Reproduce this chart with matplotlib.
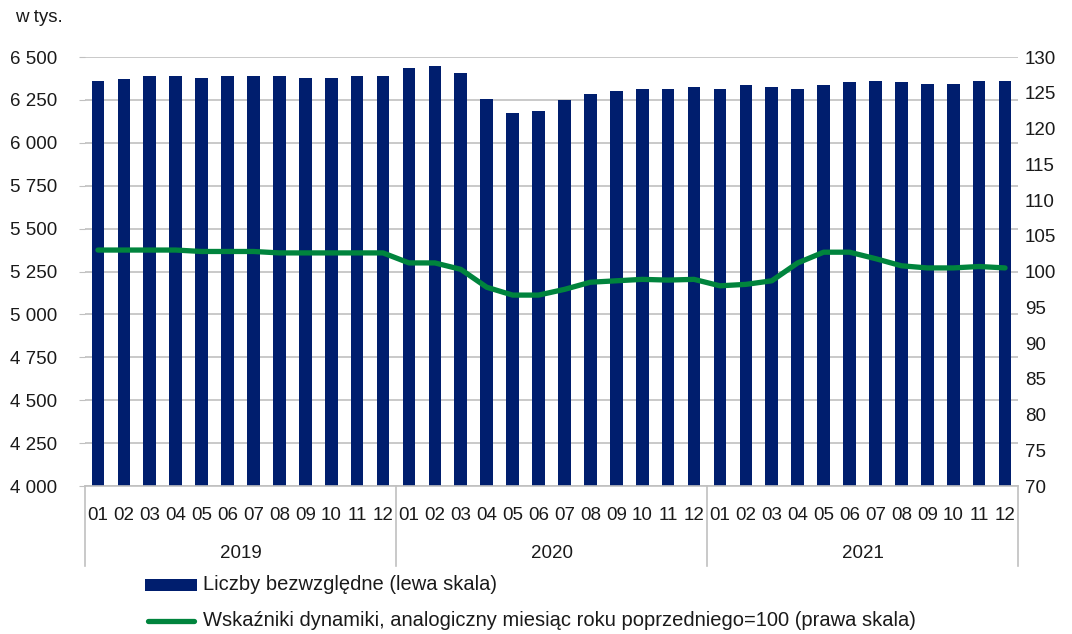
import matplotlib.pyplot as plt
from matplotlib.patches import Rectangle
from matplotlib.lines import Line2D
import matplotlib.transforms as mtransforms

plt.rcParams['font.family'] = ['Liberation Sans', 'DejaVu Sans']

years = ['2019', '2020', '2021']
months = ['01', '02', '03', '04', '05', '06', '07', '08', '09', '10', '11', '12']

# liczby bezwzgledne, w tys.
values = [6360, 6370, 6390, 6390, 6380, 6390, 6390, 6390, 6380, 6380, 6390, 6390,
          6436, 6447, 6408, 6258, 6174, 6184, 6250, 6287, 6304, 6314, 6314, 6324,
          6314, 6334, 6324, 6314, 6334, 6352, 6361, 6352, 6344, 6344, 6361, 6361]

# wskazniki dynamiki, analogiczny miesiac roku poprzedniego = 100
index = [103.0, 103.0, 103.0, 103.0, 102.8, 102.8, 102.8, 102.6, 102.6, 102.6, 102.6, 102.6,
         101.2, 101.2, 100.3, 97.8, 96.7, 96.7, 97.5, 98.5, 98.7, 98.9, 98.8, 98.9,
         98.0, 98.2, 98.7, 101.2, 102.7, 102.7, 101.8, 100.8, 100.5, 100.5, 100.7, 100.5]

legend_labels = ['Liczby bezwzględne (lewa skala)',
                 'Wskaźniki dynamiki, analogiczny miesiąc roku poprzedniego=100 (prawa skala)']

bar_color = '#001e6e'
line_color = '#00843d'
grid_color = '#c0c0c0'
text_color = '#1a1a1a'
fs = 13.5

W, H = 1072, 634
fig = plt.figure(figsize=(W / 100, H / 100), dpi=100)
ax = fig.add_axes([85 / W, 1 - 486 / H, (1018 - 85) / W, (486 - 57) / H])

x = list(range(len(values)))
ax.bar(x, values, width=0.49, color=bar_color, zorder=2)
ax.set_ylim(4000, 6500)
ax.set_xlim(-0.5, len(values) - 0.5)
ax.set_yticks(range(4000, 6501, 250))
ax.set_yticklabels([f'{v // 1000} {v % 1000:03d}' for v in range(4000, 6501, 250)])
ax.yaxis.grid(True, color=grid_color, linewidth=1.2, zorder=0)
ax.set_axisbelow(True)
for s in ['top', 'right', 'left']:
    ax.spines[s].set_visible(False)
ax.spines['bottom'].set_color(grid_color)
ax.spines['bottom'].set_linewidth(1.2)
ax.tick_params(axis='y', length=4, color=grid_color, labelsize=fs, labelcolor=text_color, pad=16)

ax.set_xticks(x)
ax.set_xticklabels(months * len(years))
ax.tick_params(axis='x', length=0, labelsize=fs, labelcolor=text_color, pad=15)

ax2 = ax.twinx()
ax2.plot(x, index, color=line_color, linewidth=3.8, solid_capstyle='round', zorder=3)
ax2.set_ylim(70, 130)
ax2.set_yticks(range(70, 131, 5))
for s in ['top', 'right', 'left', 'bottom']:
    ax2.spines[s].set_visible(False)
ax2.tick_params(axis='y', length=0, labelsize=fs, labelcolor=text_color, pad=5)

# year separators and labels
trans = mtransforms.blended_transform_factory(ax.transData, ax.transAxes)
sep_bottom = -(566 - 486) / (486 - 57)
for i in range(len(years) + 1):
    xs = i * 12 - 0.5
    ax.plot([xs, xs], [0, sep_bottom], transform=trans, color=grid_color,
            linewidth=1.2, clip_on=False)
for i, yr in enumerate(years):
    ax.text(i * 12 + 5.5, -(553 - 486) / (486 - 57), yr, transform=trans,
            ha='center', va='center', fontsize=fs, color=text_color)

fig.text(15 / W, 1 - 18 / H, 'w tys.', ha='left', va='center', fontsize=fs, color=text_color)

# legend drawn by hand, below the category axis
fig.patches.append(Rectangle((145 / W, 1 - 591 / H), 52 / W, 12 / H,
                             transform=fig.transFigure, facecolor=bar_color,
                             edgecolor='none'))
fig.lines.append(Line2D([148 / W, 194 / W], [1 - 621 / H, 1 - 621 / H],
                        transform=fig.transFigure, color=line_color,
                        linewidth=3.8, solid_capstyle='round'))
fig.text(203 / W, 1 - 585 / H, legend_labels[0], ha='left', va='center',
         fontsize=14.5, color=text_color)
fig.text(203 / W, 1 - 620 / H, legend_labels[1], ha='left', va='center',
         fontsize=14.5, color=text_color)

fig.savefig('out.png', dpi=100)
